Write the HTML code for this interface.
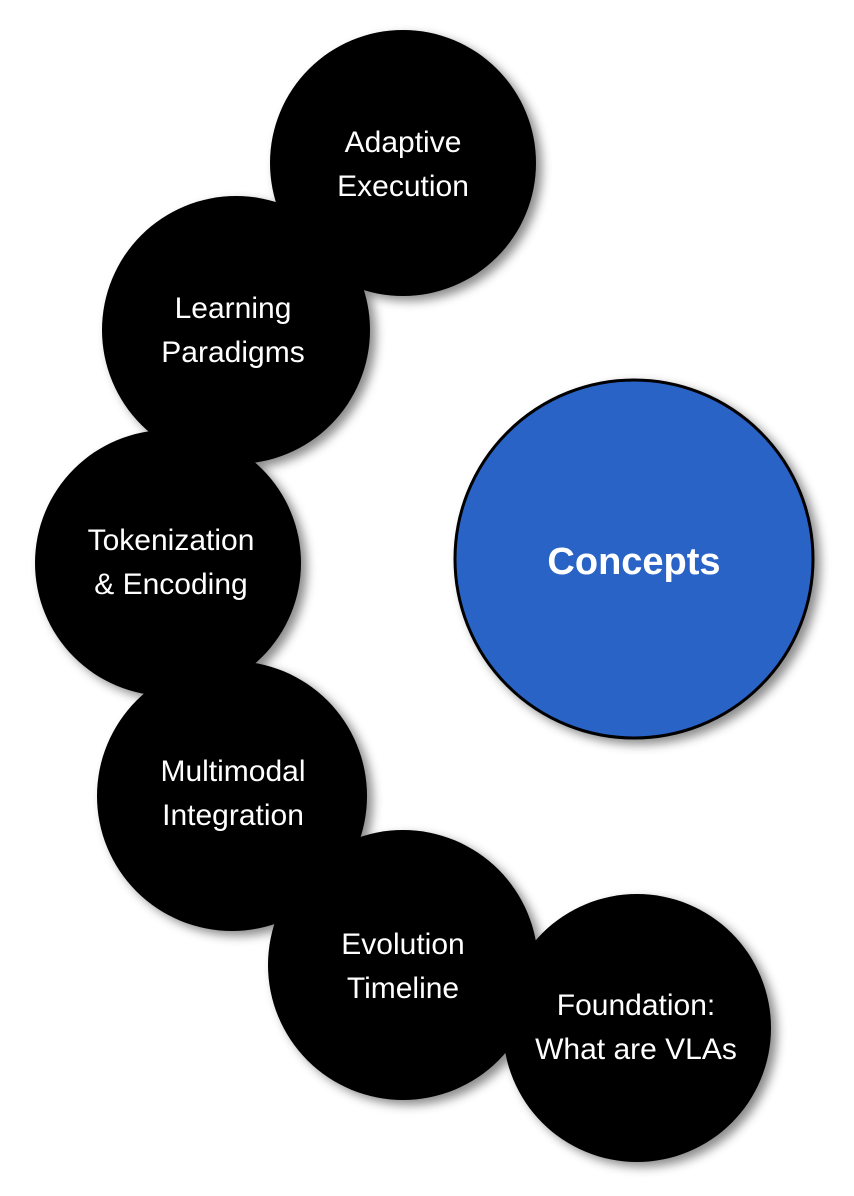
<!DOCTYPE html>
<html><head><meta charset="utf-8"><style>
html,body{margin:0;padding:0;background:#fff;}
svg{display:block;}
text{font-family:"Liberation Sans",Arial,sans-serif;fill:#fff;text-anchor:middle;}
</style></head><body>
<svg id="s" width="854" height="1196" viewBox="0 0 854 1196" xmlns="http://www.w3.org/2000/svg">
<defs>
<filter id="sh" x="-20%" y="-20%" width="140%" height="140%">
<feDropShadow dx="6" dy="5" stdDeviation="5" flood-color="#000" flood-opacity="0.45"/>
</filter>
</defs>
<g id="conn"></g>
<g filter="url(#sh)">
<circle cx="403" cy="163" r="133" fill="#000"/>
<circle cx="236" cy="330" r="134" fill="#000"/>
<circle cx="168" cy="563" r="133" fill="#000"/>
<circle cx="232" cy="796" r="135" fill="#000"/>
<circle cx="403" cy="965" r="135" fill="#000"/>
<circle cx="637" cy="1028" r="134" fill="#000"/>
<circle cx="634" cy="559" r="179" fill="#2a64c6" stroke="#000" stroke-width="3"/>
</g>
<g font-size="30">
<text x="403" y="152">Adaptive</text><text x="403" y="196">Execution</text>
<text x="233" y="318">Learning</text><text x="233" y="362">Paradigms</text>
<text x="171" y="550">Tokenization</text><text x="171" y="594">&amp; Encoding</text>
<text x="233" y="781">Multimodal</text><text x="233" y="825">Integration</text>
<text x="403" y="954">Evolution</text><text x="403" y="998">Timeline</text>
<text x="636" y="1015">Foundation:</text><text x="636" y="1059">What are VLAs</text>
</g>
<text x="634" y="574" font-size="38" font-weight="bold">Concepts</text>
<script>
(function(){
var B=[[480,260,526,400,55,75],[335,400,475,464,55,75],[285,562,457,562,60,80],[335,726,475,660,55,75],[475,870,535,716,55,75],[634,925,634,731,55,70]];
var g=document.getElementById('conn'),h=12,out='';
B.forEach(function(b){
var x0=b[0],y0=b[1],x2=b[2],y2=b[3],w1=b[4],w2=b[5];
var dx=x2-x0,dy=y2-y0,L=Math.hypot(dx,dy);dx/=L;dy/=L;
var px=dy,py=-dx,nx=(x0+x2)/2,ny=(y0+y2)/2;
var c=(h-0.25*(w1+w2))*2;
function P(x,y,k){return (x+px*k).toFixed(1)+' '+(y+py*k).toFixed(1);}
var d='M'+P(x0,y0,w1)+' Q'+P(nx,ny,c)+' '+P(x2,y2,w2)+' L'+P(x2,y2,-w2)+' Q'+P(nx,ny,-c)+' '+P(x0,y0,-w1)+' Z';
out+='<path d="'+d+'" fill="#000"/>';
out+='<line x1="'+(nx+px*h)+'" y1="'+(ny+py*h)+'" x2="'+(nx-px*h)+'" y2="'+(ny-py*h)+'" stroke="#ddd" stroke-width="0.8"/>';
});
g.innerHTML=out;
})();
</script>
</svg>
</body></html>
